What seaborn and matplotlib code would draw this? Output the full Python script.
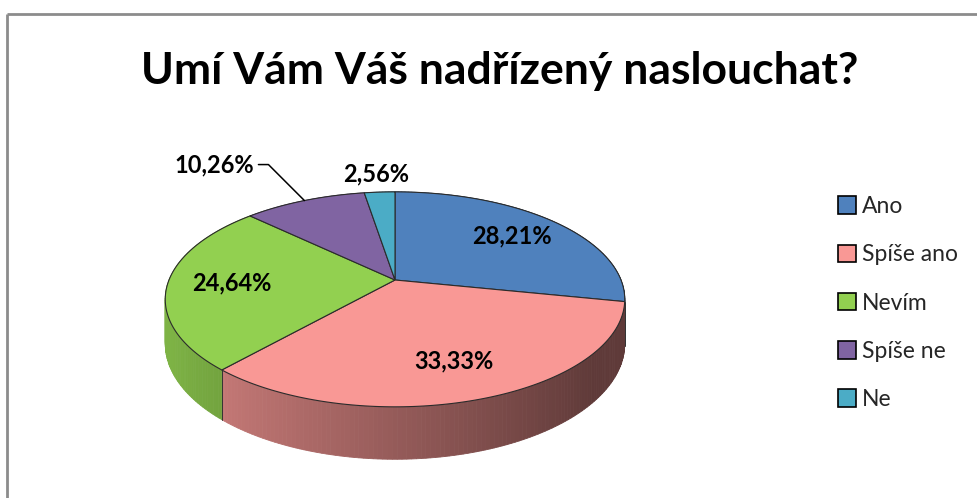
import numpy as np
import seaborn as sns
import matplotlib.pyplot as plt
from matplotlib.patches import Polygon, Patch

# data
categories = ["Ano", "Spíše ano", "Nevím", "Spíše ne", "Ne"]
values = [28.21, 33.33, 25.64, 10.26, 2.56]
value_labels = ["28,21%", "33,33%", "24,64%", "10,26%", "2,56%"]
colors = ["#4F81BD", "#F99895", "#92D050", "#8064A2", "#4BACC6"]
title = "Umí Vám Váš nadřízený naslouchat?"

sns.set_theme(style="white")
plt.rcParams['font.family'] = ['Lato', 'DejaVu Sans']

W, Hfig = 978, 498
fig = plt.figure(figsize=(W / 100, Hfig / 100), dpi=100)
ax = fig.add_axes([0, 0, 1, 1])
ax.set_xlim(0, W)
ax.set_ylim(Hfig, 0)
ax.axis('off')

# pie geometry (pixels), slight perspective like the excel 3d pie
CX, CY, A, B, K, DEPTH = 395, 280, 226, 104, 0.18, 43


def proj(phi, r=1.0):
    u = r * np.sin(phi)
    v = r * np.cos(phi)
    d = 1 + K * v
    return CX + A * u / d, CY - B * v / d, d


def shade(col, f):
    rgb = np.array(plt.matplotlib.colors.to_rgb(col))
    return tuple(np.clip(rgb * f, 0, 1))


vals = np.array(values)
cum = np.concatenate([[0], np.cumsum(vals)]) / vals.sum() * 2 * np.pi

# side walls
for i, col in enumerate(colors):
    a0, a1 = cum[i], cum[i + 1]
    steps = np.linspace(a0, a1, max(int((a1 - a0) / np.radians(1)) + 2, 3))
    for p, q in zip(steps[:-1], steps[1:]):
        x0, y0, d0 = proj(p)
        x1, y1, d1 = proj(q)
        um = np.sin((p + q) / 2)
        f = np.clip(0.6 - 0.28 * um, 0.38, 0.86)
        quad = [(x0, y0), (x1, y1), (x1, y1 + DEPTH / d1), (x0, y0 + DEPTH / d0)]
        ax.add_patch(Polygon(quad, closed=True, facecolor=shade(col, f),
                             edgecolor=shade(col, f), lw=0.6, zorder=1))
    # boundary line on the wall
    xb, yb, db = proj(a0)
    if np.cos(a0) < 0.1:
        ax.plot([xb, xb], [yb, yb + DEPTH / db], color="#333333", lw=0.7, zorder=2)

# top faces
for i, col in enumerate(colors):
    a0, a1 = cum[i], cum[i + 1]
    arc = np.linspace(a0, a1, 120)
    pts = [(CX, CY)] + [proj(t)[:2] for t in arc]
    ax.add_patch(Polygon(pts, closed=True, facecolor=col, edgecolor="#2b2b2b",
                         lw=0.8, zorder=3))

# data labels
for i, lab in enumerate(value_labels):
    mid = (cum[i] + cum[i + 1]) / 2
    if vals[i] > 12:
        x, y, _ = proj(mid, 0.72)
        ax.text(x, y, lab, ha='center', va='center', fontsize=17,
                fontweight='bold', color='black', zorder=5)
    elif vals[i] > 5:
        x, y, _ = proj(mid, 1.0)
        pts = [(x, y), (x - 36, y - 36), (x - 46, y - 36)]
        ax.plot([p[0] for p in pts], [p[1] for p in pts], color='black', lw=1.1, zorder=5)
        ax.text(x - 50, y - 36, lab, ha='right', va='center', fontsize=17,
                fontweight='bold', color='black', zorder=5)
    else:
        x, y, _ = proj(mid, 1.25)
        ax.text(x, y, lab, ha='center', va='center', fontsize=17,
                fontweight='bold', color='black', zorder=5)

# title
ax.text(500, 71, title, ha='center', va='center', fontsize=32, fontweight='bold',
        color='black')

# chart frame
ax.plot([7, 7], [Hfig, 14], color="#8c8c8c", lw=2, solid_capstyle='butt')
ax.plot([7, W], [14, 14], color="#8c8c8c", lw=2, solid_capstyle='butt')

# legend
handles = [Patch(facecolor=c, edgecolor='black', lw=1.2) for c in colors]
ax.legend(handles, categories, loc='upper left',
          bbox_to_anchor=(838 / W, 1 - 196 / Hfig), frameon=False,
          fontsize=16.5, borderaxespad=0, borderpad=0, handlelength=0.8,
          handleheight=0.8, handletextpad=0.25, labelspacing=1.19)

fig.savefig("out.png", dpi=100)
